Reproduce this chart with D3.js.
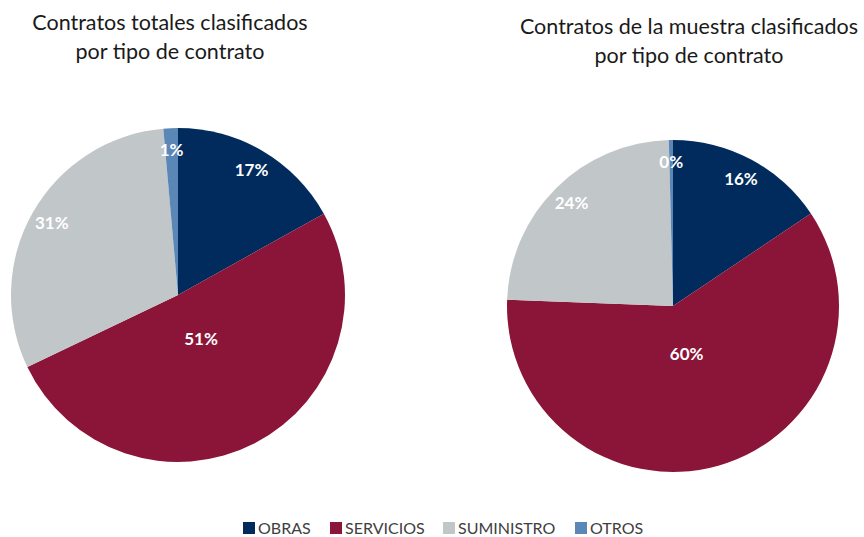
<!DOCTYPE html>
<html>
<head>
<meta charset="utf-8">
<script src="https://cdn.jsdelivr.net/npm/d3@7"></script>
<style>
  body { margin: 0; background: #fff; }
  text { font-family: Lato, "Liberation Sans", sans-serif; }
</style>
</head>
<body>
<div id="chart"></div>
<script>
// tipos de contrato
var categories = ['OBRAS', 'SERVICIOS', 'SUMINISTRO', 'OTROS'];
var totalValues = [16.9, 51.0, 30.7, 1.4];
var sampleValues = [15.6, 60.0, 24.0, 0.4];
var titles = [
  ['Contratos totales clasificados', 'por tipo de contrato'],
  ['Contratos de la muestra clasificados', 'por tipo de contrato']
];

var width = 864, height = 537;
var color = d3.scaleOrdinal()
  .domain(categories)
  .range(['#002b5c', '#8a1538', '#c1c6c9', '#5b87b7']);

var svg = d3.select('#chart')
  .append('svg')
  .attr('width', width)
  .attr('height', height);

var pies = [
  {values: totalValues, cx: 178, cy: 295, r: 167, title: titles[0], tx: 170, ty: 30},
  {values: sampleValues, cx: 673, cy: 306, r: 166, title: titles[1], tx: 689, ty: 34}
];

var pie = d3.pie().sort(null).value(function (d) { return d.value; });

pies.forEach(function (p) {
  var data = categories.map(function (c, i) { return {key: c, value: p.values[i]}; });
  var total = d3.sum(data, function (d) { return d.value; });
  var arcs = pie(data);
  var arc = d3.arc().innerRadius(0).outerRadius(p.r);

  var g = svg.append('g')
    .attr('transform', 'translate(' + p.cx + ',' + p.cy + ')');

  g.selectAll('path')
    .data(arcs)
    .enter().append('path')
    .attr('d', arc)
    .attr('fill', function (d) { return color(d.data.key); });

  g.selectAll('.lbl')
    .data(arcs)
    .enter().append('text')
    .attr('class', 'lbl')
    .attr('transform', function (d) {
      // big slices get the label near the centre, like excel best fit
      var k = d.data.value / total > 0.5 ? 0.3 : 0.87;
      var a = (d.startAngle + d.endAngle) / 2;
      return 'translate(' + (Math.sin(a) * p.r * k) + ',' + (-Math.cos(a) * p.r * k) + ')';
    })
    .attr('text-anchor', 'middle')
    .attr('dy', '0.35em')
    .style('fill', 'white')
    .style('font-weight', 'bold')
    .style('font-size', '17px')
    .text(function (d) { return Math.round(d.data.value / total * 100) + '%'; });

  svg.append('text')
    .attr('x', p.tx)
    .attr('y', p.ty)
    .attr('text-anchor', 'middle')
    .style('font-size', '21.5px')
    .style('fill', '#1a1a1a')
    .selectAll('tspan')
    .data(p.title)
    .enter().append('tspan')
    .attr('x', p.tx)
    .attr('dy', function (d, i) { return i ? 29 : 0; })
    .text(function (d) { return d; });
});

// leyenda
var legendX = [243, 330, 443, 575];
var legend = svg.selectAll('.legend')
  .data(categories)
  .enter().append('g')
  .attr('class', 'legend')
  .attr('transform', function (d, i) { return 'translate(' + legendX[i] + ',522)'; });

legend.append('rect')
  .attr('width', 12)
  .attr('height', 12)
  .style('fill', function (d) { return color(d); });

legend.append('text')
  .attr('x', 15)
  .attr('y', 12)
  .style('font-size', '16px')
  .style('fill', '#404040')
  .text(function (d) { return d; });
</script>
</body>
</html>
